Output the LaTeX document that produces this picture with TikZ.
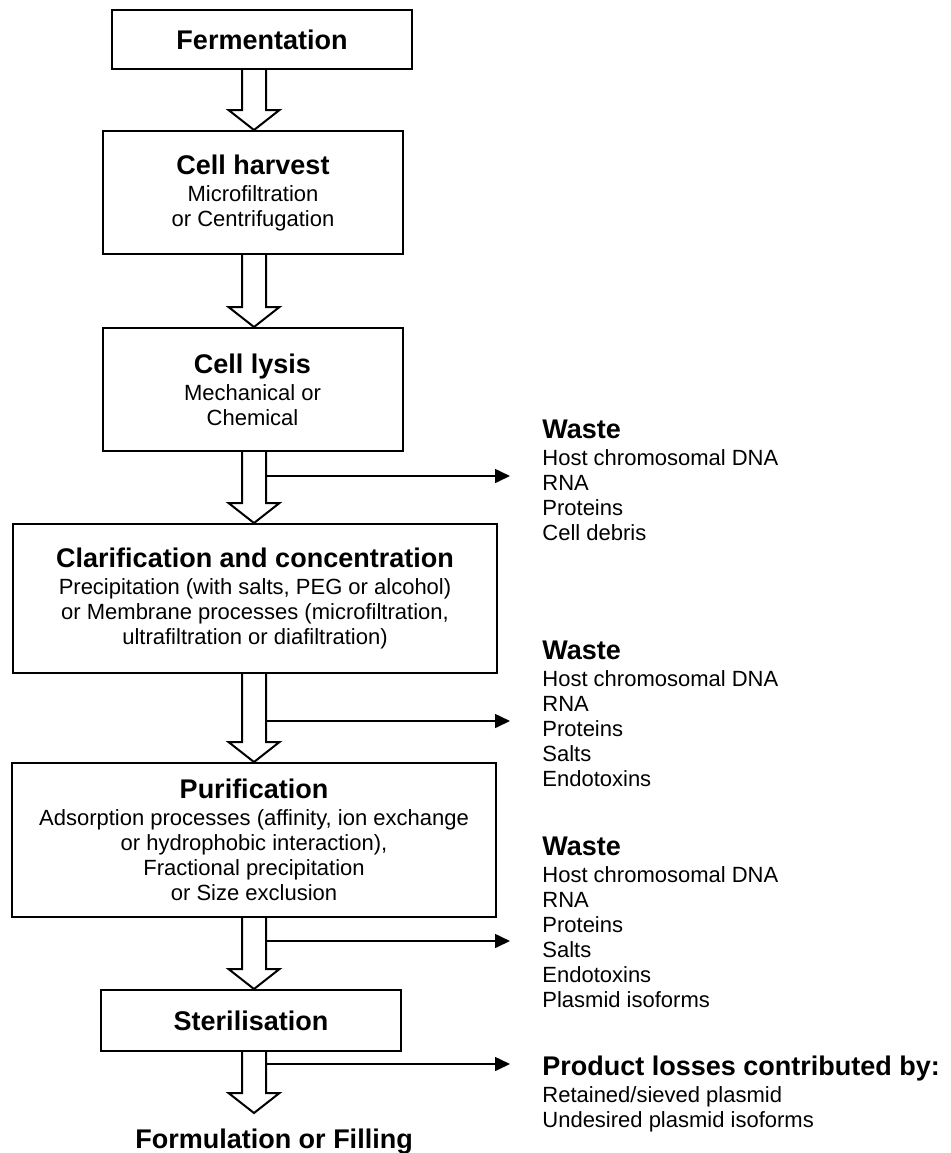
\documentclass[tikz,border=0pt]{standalone}
\usepackage{fontspec}
\setmainfont{Liberation Sans}
\usetikzlibrary{arrows.meta,calc}

\newcommand{\titlefont}{\fontsize{13.5pt}{15pt}\selectfont\bfseries}
% hollow block arrow between two steps, on the spine
\newcommand{\flowarrow}[2]{%
  \draw[hollow] let \p1=(#1.south -| spine), \p2=(#2.north -| spine) in
    ({\x1-6pt},\y1) -- ({\x1-6pt},{\y2+10pt}) -- ({\x1-12.75pt},{\y2+10pt}) -- (\x2,\y2)
    -- ({\x1+12.75pt},{\y2+10pt}) -- ({\x1+6pt},{\y2+10pt}) -- ({\x1+6pt},\y1);}

\begin{document}
\begin{tikzpicture}[
  x=0.5pt, y=-0.5pt,
  font=\fontsize{11pt}{12.5pt}\selectfont,
  stepbox/.style={draw, line width=1pt, minimum width=150pt, align=center, inner sep=0pt},
  widebox/.style={stepbox, minimum width=242pt},
  wastelist/.style={anchor=north west, align=left, inner sep=0pt},
  hollow/.style={line width=1pt, fill=white, line join=miter},
  sidearr/.style={line width=0.8pt, -{Triangle[length=7.5pt,width=7pt]}}
]
\useasboundingbox (0,0) rectangle (950,1153);
\coordinate (spine) at (254,0);

\node[stepbox, minimum height=29.5pt] (ferm) at (262,39.5) {\titlefont Fermentation};
\node[stepbox, minimum height=61.5pt] (harvest) at (253,192.5) {{\titlefont Cell harvest}\\[1pt] Microfiltration\\ or Centrifugation};
\node[stepbox, minimum height=61.5pt] (lysis) at (252.5,389.5) {{\titlefont Cell lysis}\\[1pt] Mechanical or\\ Chemical};
\node[widebox, minimum height=74.5pt] (clarif) at (255,598.5) {{\titlefont Clarification and concentration}\\[1pt] Precipitation (with salts, PEG or alcohol)\\ or Membrane processes (microfiltration,\\ ultrafiltration or diafiltration)};
\node[widebox, minimum height=77pt] (purif) at (254,840) {{\titlefont Purification}\\[1pt] Adsorption processes (affinity, ion exchange\\ or hydrophobic interaction),\\ Fractional precipitation\\ or Size exclusion};
\node[stepbox, minimum height=30.5pt] (steril) at (251,1020.5) {\titlefont Sterilisation};
\node[anchor=north, inner xsep=0pt, inner ysep=8pt, font=\titlefont] (fill) at (274,1113) {Formulation or Filling};

\node[wastelist] (waste1) at (542,420) {{\titlefont Waste}\\[1pt] Host chromosomal DNA\\ RNA\\ Proteins\\ Cell debris};
\node[wastelist] (waste2) at (542,641) {{\titlefont Waste}\\[1pt] Host chromosomal DNA\\ RNA\\ Proteins\\ Salts\\ Endotoxins};
\node[wastelist] (waste3) at (542,837) {{\titlefont Waste}\\[1pt] Host chromosomal DNA\\ RNA\\ Proteins\\ Salts\\ Endotoxins\\ Plasmid isoforms};
\node[wastelist] (losses) at (542,1056) {{\titlefont Product losses contributed by:}\\[1pt] Retained/sieved plasmid\\ Undesired plasmid isoforms};

\flowarrow{ferm}{harvest}
\flowarrow{harvest}{lysis}
\flowarrow{lysis}{clarif}
\flowarrow{clarif}{purif}
\flowarrow{purif}{steril}
\flowarrow{steril}{fill}

\coordinate (tap1) at (266,476);
\coordinate (out1) at (510,476);
\coordinate (tap2) at (266,721);
\coordinate (out2) at (510,721);
\coordinate (tap3) at (266,941);
\coordinate (out3) at (510,941);
\coordinate (tap4) at (266,1064);
\coordinate (out4) at (510,1064);
\draw[sidearr] (tap1) -- (out1);
\draw[sidearr] (tap2) -- (out2);
\draw[sidearr] (tap3) -- (out3);
\draw[sidearr] (tap4) -- (out4);
\end{tikzpicture}
\end{document}
